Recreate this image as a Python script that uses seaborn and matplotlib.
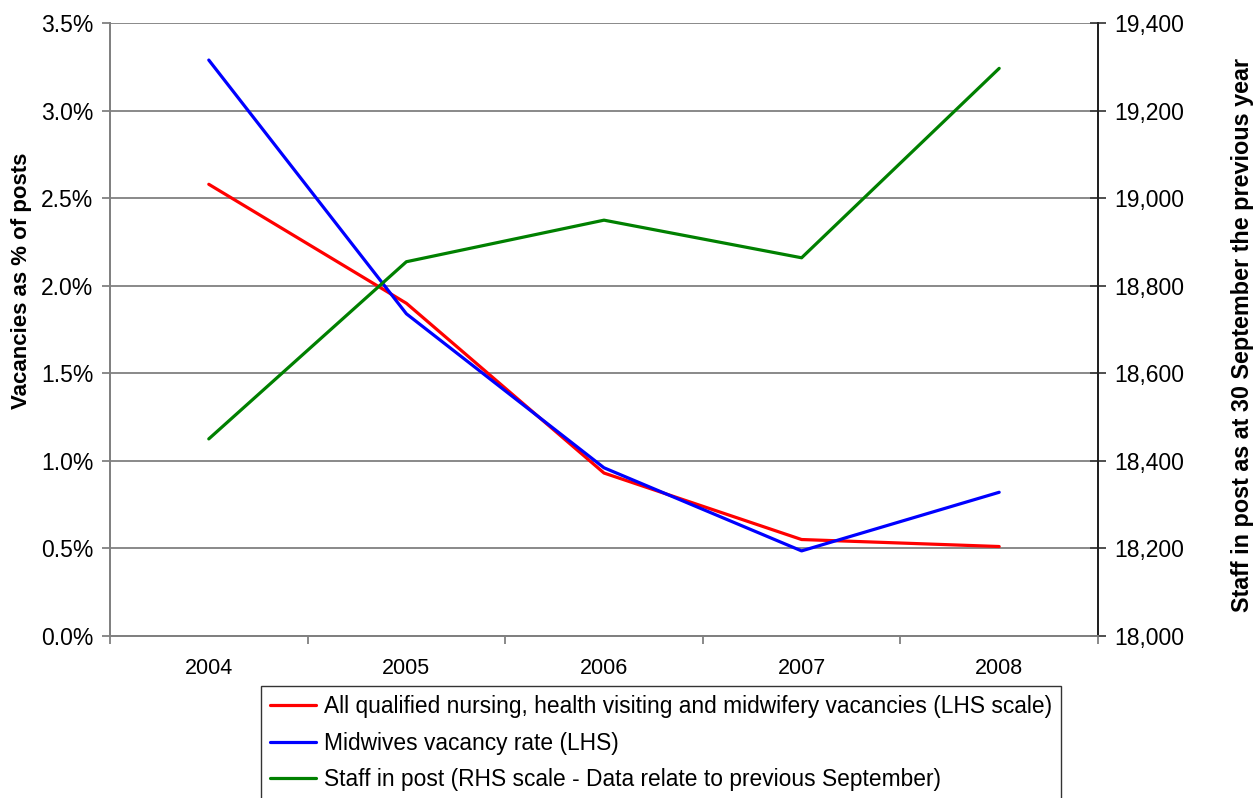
import matplotlib
matplotlib.use("Agg")
import matplotlib.pyplot as plt
import matplotlib.ticker as mticker
from matplotlib.lines import Line2D
import seaborn as sns
import pandas as pd

years = ["2004", "2005", "2006", "2007", "2008"]
all_vacancies = [2.58, 1.90, 0.93, 0.55, 0.51]
midwives_vacancies = [3.29, 1.84, 0.96, 0.485, 0.82]
staff_in_post = [18450, 18855, 18950, 18864, 19297]

labels = [
    "All qualified nursing, health visiting and midwifery vacancies (LHS scale)",
    "Midwives vacancy rate (LHS)",
    "Staff in post (RHS scale - Data relate to previous September)",
]
colors = ["#FF0000", "#0000FF", "#008000"]

sns.set_theme(style="white")
plt.rcParams["font.family"] = ["Liberation Sans", "DejaVu Sans"]

df = pd.DataFrame({
    "year": years,
    "all": all_vacancies,
    "mid": midwives_vacancies,
    "staff": staff_in_post,
})

fig = plt.figure(figsize=(12.57, 7.98), dpi=100)
ax = fig.add_axes([0.0875, 0.2033, 0.786, 0.7675])
ax2 = ax.twinx()

sns.lineplot(data=df, x="year", y="all", ax=ax, color=colors[0], linewidth=2.3, sort=False)
sns.lineplot(data=df, x="year", y="mid", ax=ax, color=colors[1], linewidth=2.3, sort=False)
sns.lineplot(data=df, x="year", y="staff", ax=ax2, color=colors[2], linewidth=2.3, sort=False)

ax.set_xlim(-0.5, len(years) - 0.5)
ax.set_ylim(0, 3.5)
ax2.set_ylim(18000, 19400)

# left axis: percentage ticks and horizontal gridlines
ax.set_yticks([i * 0.5 for i in range(8)])
ax.yaxis.set_major_formatter(mticker.FuncFormatter(lambda v, p: f"{v:.1f}%"))
ax.yaxis.grid(True, color="#808080", linewidth=1.3)
ax.xaxis.grid(False)
ax.set_axisbelow(True)

# right axis: staff counts
ax2.set_yticks(range(18000, 19401, 200))
ax2.yaxis.set_major_formatter(mticker.FuncFormatter(lambda v, p: f"{int(v):,}"))
ax2.grid(False)

# category labels in the middle, ticks on the boundaries
ax.set_xticks(range(len(years)))
ax.set_xticklabels(years)
ax.set_xticks([i - 0.5 for i in range(len(years) + 1)], minor=True)
ax.tick_params(axis="x", which="major", length=0, pad=16, labelsize=15.5, labelcolor="black")
ax.tick_params(axis="x", which="minor", length=6, width=1.3, color="#808080", bottom=True)
ax.tick_params(axis="y", which="major", length=6, width=1.3, color="#808080", left=True,
               labelsize=16.5, labelcolor="black", pad=6)
ax2.tick_params(axis="y", which="major", direction="inout", length=12, width=1.3, color="#404040",
                right=True, labelsize=16.5, labelcolor="black", pad=6)

ax.set_xlabel("")
ax.set_ylabel("Vacancies as % of posts", fontsize=16, fontweight="bold", color="black")
ax.yaxis.set_label_coords(-0.079, 0.579)
ax2.set_ylabel("Staff in post as at 30 September the previous year", fontsize=16.8,
               fontweight="bold", color="black")
ax2.yaxis.set_label_coords(1.135, 0.491)

for a in (ax, ax2):
    a.spines["top"].set_visible(False)
    a.spines["left"].set_color("#808080")
    a.spines["left"].set_linewidth(1.3)
    a.spines["bottom"].set_color("#808080")
    a.spines["bottom"].set_linewidth(1.3)
    a.spines["right"].set_color("#202020")
    a.spines["right"].set_linewidth(1.3)

handles = [Line2D([0], [0], color=c, linewidth=2.3) for c in colors]
leg = fig.legend(handles, labels, loc="upper left", bbox_to_anchor=(261 / 1257, 1 - 686 / 798),
                 frameon=True, fancybox=False, fontsize=16.4, handlelength=2.0,
                 handletextpad=0.35, labelspacing=0.6, borderpad=0.4, borderaxespad=0)
leg.get_frame().set_edgecolor("black")
leg.get_frame().set_linewidth(1.0)
for t in leg.get_texts():
    t.set_color("black")

fig.savefig("out.png", dpi=100)
